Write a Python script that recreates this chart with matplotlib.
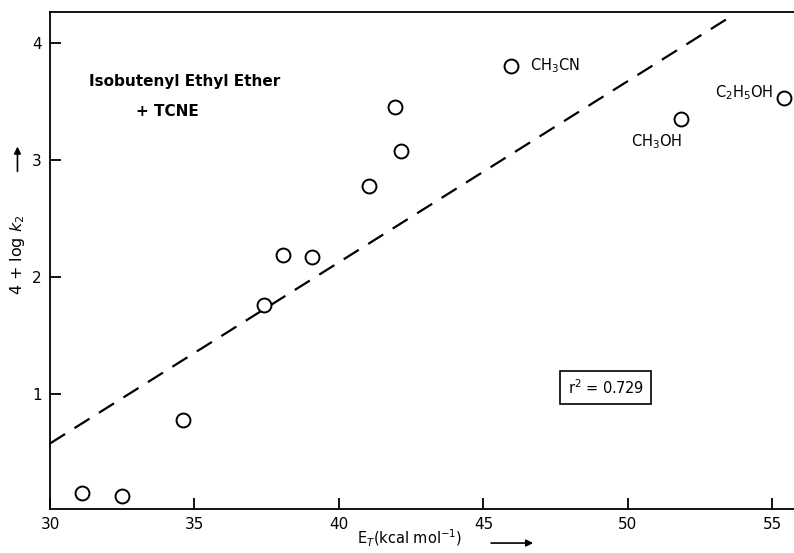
import matplotlib
matplotlib.use("Agg")
import matplotlib.pyplot as plt

# Data
et_values = [31.1, 32.5, 34.6, 37.4, 38.05, 39.07, 41.04, 41.94, 42.15, 45.95, 51.83, 55.4]
logk_values = [0.16, 0.13, 0.78, 1.76, 2.19, 2.17, 2.78, 3.46, 3.08, 3.81, 3.35, 3.53]
fit_x = [30.0, 53.5]
fit_y = [0.58, 4.22]
x_ticks = [30, 35, 40, 45, 50, 55]
y_ticks = [1, 2, 3, 4]
solvent_labels = {"CH$_3$CN": (46.6, 3.81), "CH$_3$OH": (50.1, 3.16), "C$_2$H$_5$OH": (53.0, 3.58)}

plt.rcParams['font.family'] = ['DejaVu Sans']
fig = plt.figure(figsize=(7.94, 5.53), dpi=100)
ax = fig.add_axes([0.063, 0.0796, 0.937, 0.898])

ax.plot(fit_x, fit_y, color='black', lw=1.6, linestyle=(0, (8, 5)))
ax.plot(et_values, logk_values, linestyle='none', marker='o', markersize=10,
        markerfacecolor='white', markeredgecolor='black', markeredgewidth=1.4, clip_on=False)

for txt, (x, y) in solvent_labels.items():
    ax.text(x, y, txt, fontsize=10.5, ha='left', va='center')

ax.text(0.052, 0.86, "Isobutenyl Ethyl Ether", transform=ax.transAxes, fontsize=11,
        fontweight='bold', ha='left', va='center')
ax.text(0.115, 0.80, "+ TCNE", transform=ax.transAxes, fontsize=11,
        fontweight='bold', ha='left', va='center')

ax.text(0.747, 0.245, "r$^2$ = 0.729", transform=ax.transAxes, fontsize=10.5,
        ha='center', va='center',
        bbox=dict(boxstyle='square,pad=0.5', facecolor='white', edgecolor='black', lw=1.2))

ax.set_xlim(30, 55.75)
ax.set_ylim(0.02, 4.265)
ax.set_xticks(x_ticks)
ax.set_yticks(y_ticks)
ax.tick_params(direction='in', length=8, width=1.3, labelsize=11, pad=6)
ax.spines['right'].set_visible(False)
for s in ['left', 'bottom', 'top']:
    ax.spines[s].set_linewidth(1.3)

# Axis labels with arrows
fig.text(0.449, 0.008, "E$_T$(kcal mol$^{-1}$)", fontsize=10.5, ha='left', va='bottom')
ax.annotate("", xy=(0.675, 0.018), xytext=(0.615, 0.018), xycoords='figure fraction',
            arrowprops=dict(arrowstyle='-|>', color='black', lw=1.2, mutation_scale=10))
fig.text(0.022, 0.54, "4 + log $k_2$", fontsize=11.5, rotation=90, ha='center', va='center')
ax.annotate("", xy=(0.022, 0.74), xytext=(0.022, 0.685), xycoords='figure fraction',
            arrowprops=dict(arrowstyle='-|>', color='black', lw=1.2, mutation_scale=10))

fig.savefig("out.png", dpi=100)
